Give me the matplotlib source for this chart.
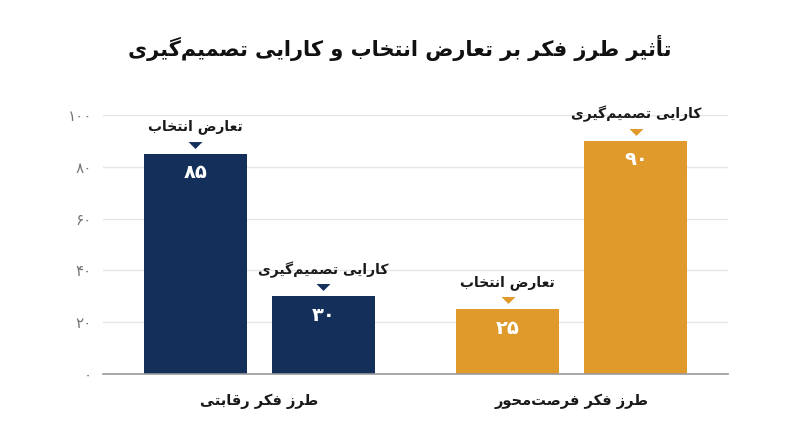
import numpy as np
import matplotlib
matplotlib.use('Agg')
import matplotlib.pyplot as plt
from matplotlib.transforms import ScaledTranslation

# chart data
title = 'تأثیر طرز فکر بر تعارض انتخاب و کارایی تصمیم‌گیری'
groups = ['طرز فکر رقابتی', 'طرز فکر فرصت‌محور']
series = ['تعارض انتخاب', 'کارایی تصمیم‌گیری']
competitive = [85, 30]
opportunity = [25, 90]
yticks = [0, 20, 40, 60, 80, 100]

navy = '#14305a'
orange = '#e09a2c'

# matplotlib has no arabic shaping, so pick presentation forms by hand
# (isolated, final, initial, medial)
FORMS = {
    'ا': '\ufe8d\ufe8e', 'أ': '\ufe83\ufe84', 'آ': '\ufe81\ufe82',
    'ب': '\ufe8f\ufe90\ufe91\ufe92', 'پ': '\ufb56\ufb57\ufb58\ufb59',
    'ت': '\ufe95\ufe96\ufe97\ufe98', 'ث': '\ufe99\ufe9a\ufe9b\ufe9c',
    'ج': '\ufe9d\ufe9e\ufe9f\ufea0', 'چ': '\ufb7a\ufb7b\ufb7c\ufb7d',
    'ح': '\ufea1\ufea2\ufea3\ufea4', 'خ': '\ufea5\ufea6\ufea7\ufea8',
    'د': '\ufea9\ufeaa', 'ذ': '\ufeab\ufeac', 'ر': '\ufead\ufeae',
    'ز': '\ufeaf\ufeb0', 'ژ': '\ufb8a\ufb8b',
    'س': '\ufeb1\ufeb2\ufeb3\ufeb4', 'ش': '\ufeb5\ufeb6\ufeb7\ufeb8',
    'ص': '\ufeb9\ufeba\ufebb\ufebc', 'ض': '\ufebd\ufebe\ufebf\ufec0',
    'ط': '\ufec1\ufec2\ufec3\ufec4', 'ظ': '\ufec5\ufec6\ufec7\ufec8',
    'ع': '\ufec9\ufeca\ufecb\ufecc', 'غ': '\ufecd\ufece\ufecf\ufed0',
    'ف': '\ufed1\ufed2\ufed3\ufed4', 'ق': '\ufed5\ufed6\ufed7\ufed8',
    'ک': '\ufb8e\ufb8f\ufb90\ufb91', 'گ': '\ufb92\ufb93\ufb94\ufb95',
    'ل': '\ufedd\ufede\ufedf\ufee0', 'م': '\ufee1\ufee2\ufee3\ufee4',
    'ن': '\ufee5\ufee6\ufee7\ufee8', 'و': '\ufeed\ufeee',
    'ه': '\ufee9\ufeea\ufeeb\ufeec', 'ی': '\ufbfc\ufbfd\ufbfe\ufbff',
}


def fa(text):
    out = []
    for i, c in enumerate(text):
        if c not in FORMS:
            if c != '\u200c':
                out.append(c)
            continue
        prev = text[i - 1] if i > 0 else ''
        nxt = text[i + 1] if i + 1 < len(text) else ''
        f = FORMS[c]
        jp = prev in FORMS and len(FORMS[prev]) == 4
        jn = nxt in FORMS and len(f) == 4
        if jp and jn:
            out.append(f[3])
        elif jp:
            out.append(f[1])
        elif jn:
            out.append(f[2])
        else:
            out.append(f[0])
    return ''.join(reversed(out))


def fa_num(n):
    return ''.join(chr(0x06F0 + int(d)) for d in str(n))


plt.rcParams['font.family'] = ['DejaVu Sans']

fig = plt.figure(figsize=(8, 4.47), dpi=100)
ax = fig.add_axes([0.129, 0.1633, 0.781, 0.5794])

x = np.arange(len(groups))
width = 0.33
offsets = [-0.205, 0.205]
tri = [(-1, 0.5), (1, 0.5), (0, -0.5), (-1, 0.5)]
lift = ax.transData + ScaledTranslation(0, 9 / 100, fig.dpi_scale_trans)

for gi, (vals, col) in enumerate([(competitive, navy), (opportunity, orange)]):
    for si, v in enumerate(vals):
        xp = x[gi] + offsets[si]
        ax.bar(xp, v, width, color=col, zorder=3)
        ax.annotate(fa_num(v), (xp, v), xytext=(0, -19), textcoords='offset pixels',
                    ha='center', va='center', color='white', fontsize=14,
                    fontweight='bold', zorder=4)
        ax.plot(xp, v, marker=tri, ms=10, color=col, zorder=4, clip_on=False,
                markeredgewidth=0, transform=lift)
        ax.annotate(fa(series[si]), (xp, v), xytext=(0, 27), textcoords='offset pixels',
                    ha='center', va='center', color='#1a1a1a', fontsize=10,
                    fontweight='bold', annotation_clip=False)

ax.set_xlim(-0.5, 1.5)
ax.set_ylim(0, 100)
ax.set_yticks(yticks)
ax.set_yticklabels([fa_num(t) for t in yticks], color='#777777', fontsize=11)
ax.set_xticks(x)
ax.set_xticklabels([fa(g) for g in groups], fontsize=10.5, fontweight='bold', color='#1a1a1a')
ax.tick_params(axis='both', length=0)
ax.tick_params(axis='y', pad=8)
ax.tick_params(axis='x', pad=14)
ax.grid(axis='y', color='#e6e6e6', linewidth=1, zorder=0)
for s in ['top', 'right', 'left']:
    ax.spines[s].set_visible(False)
ax.spines['bottom'].set_color('#999999')
ax.spines['bottom'].set_linewidth(1.2)
ax.spines['bottom'].set_zorder(5)

fig.text(0.5, 1 - 48 / 447, fa(title), ha='center', va='center', fontsize=15,
         fontweight='bold', color='#111111')

fig.savefig('out.png', dpi=100)
